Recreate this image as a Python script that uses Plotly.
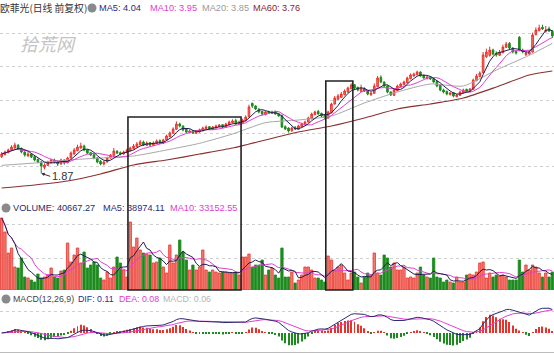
import plotly.graph_objects as go
import pandas as pd

# ---------------- data ----------------
open_ = [
2.12, 2.15, 2.18, 2.22, 2.25, 2.29, 2.24, 2.19, 2.13, 2.16,
2.12, 2.08, 2.04, 1.96, 1.99, 2.03, 2.07, 2.05, 2.01, 2.07,
2.03, 2.10, 2.16, 2.21, 2.25, 2.28, 2.22, 2.18, 2.15, 2.10,
2.05, 2.01, 2.04, 2.10, 2.14, 2.20, 2.18, 2.16, 2.18, 2.21,
2.24, 2.27, 2.30, 2.34, 2.29, 2.33, 2.29, 2.32, 2.36, 2.32,
2.37, 2.42, 2.47, 2.53, 2.61, 2.58, 2.53, 2.48, 2.51, 2.47,
2.49, 2.51, 2.54, 2.57, 2.53, 2.55, 2.57, 2.60, 2.56, 2.60,
2.63, 2.66, 2.61, 2.62, 2.66, 2.72, 2.92, 2.88, 2.83, 2.80,
2.75, 2.79, 2.77, 2.80, 2.76, 2.74, 2.57, 2.55, 2.51, 2.56,
2.53, 2.57, 2.60, 2.64, 2.69, 2.75, 2.80, 2.77, 2.74, 2.70,
2.78, 2.91, 2.98, 3.01, 3.05, 3.09, 3.14, 3.20, 3.16, 3.10,
3.14, 3.11, 3.05, 3.07, 3.17, 3.31, 3.24, 3.18, 3.09, 3.04,
3.11, 3.17, 3.20, 3.23, 3.29, 3.33, 3.35, 3.39, 3.34, 3.29,
3.32, 3.29, 3.25, 3.19, 3.12, 3.10, 3.05, 3.08, 3.02, 3.04,
3.08, 3.13, 3.10, 3.13, 3.26, 3.32, 3.38, 3.62, 3.64, 3.72,
3.67, 3.64, 3.68, 3.76, 3.82, 3.75, 3.70, 3.91, 3.72, 3.65,
3.66, 3.69, 3.95, 4.01, 4.06, 4.00, 4.04, 4.00]
high = [
2.19, 2.21, 2.24, 2.29, 2.33, 2.31, 2.26, 2.20, 2.19, 2.17,
2.13, 2.09, 2.05, 2.02, 2.06, 2.09, 2.09, 2.06, 2.09, 2.08,
2.12, 2.20, 2.25, 2.30, 2.33, 2.30, 2.23, 2.19, 2.16, 2.11,
2.07, 2.06, 2.12, 2.16, 2.25, 2.22, 2.20, 2.21, 2.24, 2.27,
2.31, 2.34, 2.37, 2.36, 2.35, 2.34, 2.35, 2.38, 2.38, 2.39,
2.45, 2.50, 2.56, 2.65, 2.63, 2.59, 2.55, 2.53, 2.52, 2.52,
2.54, 2.57, 2.59, 2.58, 2.58, 2.60, 2.61, 2.61, 2.63, 2.66,
2.68, 2.69, 2.66, 2.69, 2.74, 2.90, 2.93, 2.89, 2.85, 2.81,
2.81, 2.81, 2.81, 2.81, 2.77, 2.75, 2.59, 2.56, 2.57, 2.58,
2.60, 2.63, 2.66, 2.72, 2.78, 2.81, 2.82, 2.78, 2.75, 2.81,
2.93, 3.03, 3.06, 3.09, 3.13, 3.17, 3.22, 3.21, 3.17, 3.20,
3.16, 3.12, 3.09, 3.22, 3.33, 3.34, 3.25, 3.19, 3.10, 3.14,
3.20, 3.23, 3.26, 3.32, 3.37, 3.38, 3.41, 3.40, 3.35, 3.33,
3.33, 3.30, 3.26, 3.20, 3.14, 3.11, 3.09, 3.09, 3.06, 3.11,
3.14, 3.14, 3.15, 3.29, 3.36, 3.40, 3.69, 3.74, 3.77, 3.74,
3.70, 3.72, 3.80, 3.84, 3.84, 3.76, 3.72, 3.93, 3.74, 3.70,
3.72, 3.98, 4.06, 4.10, 4.10, 4.08, 4.07, 4.02]
low = [
2.10, 2.14, 2.17, 2.21, 2.24, 2.22, 2.17, 2.12, 2.12, 2.10,
2.05, 2.02, 1.87, 1.93, 1.98, 2.02, 2.02, 1.98, 2.00, 2.00,
2.02, 2.09, 2.15, 2.20, 2.24, 2.20, 2.16, 2.13, 2.08, 2.02,
1.99, 1.99, 2.03, 2.09, 2.13, 2.16, 2.14, 2.15, 2.17, 2.20,
2.23, 2.26, 2.29, 2.28, 2.28, 2.27, 2.28, 2.31, 2.31, 2.31,
2.36, 2.41, 2.46, 2.52, 2.56, 2.50, 2.47, 2.47, 2.46, 2.46,
2.48, 2.50, 2.53, 2.52, 2.52, 2.54, 2.56, 2.55, 2.55, 2.59,
2.62, 2.60, 2.60, 2.61, 2.65, 2.71, 2.85, 2.82, 2.77, 2.74,
2.74, 2.76, 2.76, 2.75, 2.72, 2.55, 2.52, 2.48, 2.49, 2.52,
2.52, 2.56, 2.59, 2.63, 2.68, 2.74, 2.75, 2.71, 2.68, 2.69,
2.77, 2.90, 2.97, 3.00, 3.04, 3.08, 3.13, 3.13, 3.10, 3.09,
3.09, 3.04, 3.03, 3.06, 3.16, 3.22, 3.16, 3.07, 3.03, 3.03,
3.10, 3.16, 3.19, 3.22, 3.28, 3.32, 3.34, 3.32, 3.29, 3.28,
3.27, 3.22, 3.16, 3.10, 3.07, 3.04, 3.04, 3.01, 3.01, 3.03,
3.07, 3.09, 3.09, 3.12, 3.25, 3.31, 3.37, 3.60, 3.62, 3.64,
3.62, 3.63, 3.67, 3.75, 3.73, 3.67, 3.65, 3.70, 3.67, 3.63,
3.65, 3.68, 3.94, 4.00, 4.02, 3.98, 3.99, 3.90]
close = [
2.16, 2.19, 2.22, 2.265, 2.295, 2.235, 2.19, 2.145, 2.16, 2.115,
2.07, 2.04, 1.98, 1.995, 2.04, 2.07, 2.04, 2.01, 2.07, 2.025,
2.10, 2.175, 2.22, 2.265, 2.28, 2.22, 2.175, 2.145, 2.10, 2.04,
2.01, 2.04, 2.10, 2.145, 2.205, 2.175, 2.16, 2.19, 2.22, 2.25,
2.28, 2.31, 2.34, 2.295, 2.325, 2.295, 2.325, 2.355, 2.325, 2.37,
2.43, 2.475, 2.535, 2.61, 2.58, 2.52, 2.49, 2.505, 2.475, 2.505,
2.52, 2.55, 2.565, 2.535, 2.565, 2.58, 2.595, 2.565, 2.61, 2.64,
2.655, 2.61, 2.64, 2.67, 2.715, 2.865, 2.88, 2.835, 2.79, 2.76,
2.79, 2.775, 2.79, 2.76, 2.73, 2.565, 2.535, 2.505, 2.55, 2.535,
2.58, 2.61, 2.64, 2.70, 2.76, 2.79, 2.76, 2.73, 2.70, 2.79,
2.91, 3.00, 3.03, 3.06, 3.105, 3.15, 3.195, 3.15, 3.12, 3.15,
3.105, 3.06, 3.075, 3.18, 3.30, 3.24, 3.18, 3.09, 3.045, 3.12,
3.18, 3.21, 3.24, 3.30, 3.345, 3.36, 3.39, 3.33, 3.30, 3.315,
3.285, 3.24, 3.18, 3.12, 3.09, 3.06, 3.075, 3.03, 3.045, 3.09,
3.12, 3.105, 3.135, 3.27, 3.33, 3.375, 3.645, 3.69, 3.72, 3.66,
3.645, 3.69, 3.765, 3.81, 3.75, 3.69, 3.675, 3.72, 3.69, 3.675,
3.69, 3.945, 4.02, 4.05, 4.035, 4.02, 4.005, 3.93]
volume = [
72000, 58000, 37000, 42000, 23000, 22000, 32000, 13000, 12000, 10000,
8000, 16000, 12000, 13000, 15000, 22000, 13000, 12000, 19000, 20000,
47000, 28000, 35000, 42000, 27000, 38000, 22000, 25000, 28000, 25000,
12000, 10000, 18000, 12000, 23000, 33000, 27000, 20000, 13000, 68000,
43000, 52000, 40000, 37000, 36000, 35000, 27000, 28000, 32000, 23000,
17000, 45000, 27000, 35000, 50000, 38000, 30000, 20000, 25000, 20000,
23000, 40000, 20000, 18000, 20000, 18000, 17000, 18000, 18000, 17000,
17000, 18000, 15000, 33000, 33000, 36000, 23000, 25000, 25000, 30000,
15000, 20000, 22000, 15000, 12000, 42000, 13000, 13000, 18000, 7000,
10000, 15000, 23000, 23000, 20000, 12000, 12000, 10000, 8000, 34000,
30000, 20000, 23000, 25000, 17000, 10000, 17000, 18000, 13000, 7000,
13000, 17000, 15000, 37000, 17000, 15000, 35000, 32000, 23000, 27000,
20000, 20000, 23000, 12000, 13000, 12000, 17000, 23000, 15000, 13000,
12000, 32000, 13000, 12000, 8000, 10000, 8000, 7000, 13000, 8000,
8000, 15000, 16000, 15000, 18000, 27000, 28000, 12000, 17000, 13000,
15000, 14000, 15000, 13000, 10000, 10000, 10000, 30000, 18000, 25000,
20000, 25000, 23000, 17000, 13000, 17000, 13000, 18000]
# MA20 / MA60 at every tenth session
ma_idx = [0, 10, 20, 30, 40, 50, 60, 70, 80, 90, 100, 110, 120, 130, 140, 150, 160, 167]
ma20 = [1.99, 2.025, 2.07, 2.10, 2.13, 2.22, 2.32, 2.46, 2.63, 2.67, 2.73, 2.925, 3.09, 3.21, 3.18, 3.42, 3.64, 3.82]
ma60 = [1.65, 1.695, 1.755, 1.86, 1.995, 2.07, 2.16, 2.25, 2.37, 2.49, 2.58, 2.70, 2.835, 2.91, 3.00, 3.165, 3.345, 3.405]

title_txt = "欧菲光(日线 前复权)"
hdr_price = [("MA5: 4.04", "#2b2b7a"), ("MA10: 3.95", "#e040d0"), ("MA20: 3.85", "#9a9a9a"), ("MA60: 3.76", "#8b2525")]
hdr_vol = [("VOLUME: 40667.27", "#2b2b6a"), ("MA5: 38974.11", "#2b2b7a"), ("MA10: 33152.55", "#e040d0")]
hdr_macd = [("MACD(12,26,9)", "#444444"), ("DIF: 0.11", "#2b2b9a"), ("DEA: 0.08", "#e040d0"), ("MACD: 0.06", "#b5b5b5")]

# ---------------- derived indicators ----------------
N = len(close)
idx = list(range(N))
cs = pd.Series(close)
ma5 = cs.rolling(5, min_periods=1).mean()
ma10 = cs.rolling(10, min_periods=1).mean()
vs = pd.Series(volume, dtype=float)
vma5 = vs.rolling(5, min_periods=1).mean()
vma10 = vs.rolling(10, min_periods=1).mean()
ema12 = cs.ewm(span=12, adjust=False).mean()
ema26 = cs.ewm(span=26, adjust=False).mean()
dif = ema12 - ema26
dea = dif.ewm(span=9, adjust=False).mean()
macd = 2 * (dif - dea)

RED = "#e8332c"
RED_FILL = "#f47a70"
GREEN = "#1d8a1d"
W, H = 554, 354
FONT = "Liberation Sans, Arial, Noto Sans CJK SC, sans-serif"


def px(x):
    return x / W


def py(y):
    return 1 - y / H


fig = go.Figure()
fig.add_trace(go.Candlestick(
    x=idx, open=open_, high=high, low=low, close=close,
    increasing=dict(line=dict(color=RED, width=1), fillcolor=RED_FILL),
    decreasing=dict(line=dict(color=GREEN, width=1), fillcolor=GREEN),
    whiskerwidth=0, hoverinfo="skip", showlegend=False, xaxis="x", yaxis="y"))
fig.add_trace(go.Scatter(x=ma_idx, y=ma60, mode="lines", line=dict(color="#8b2f2f", width=1.2, shape="spline", smoothing=0.6), yaxis="y"))
fig.add_trace(go.Scatter(x=ma_idx, y=ma20, mode="lines", line=dict(color="#a8a8a8", width=1, shape="spline", smoothing=0.6), yaxis="y"))
fig.add_trace(go.Scatter(x=idx, y=ma10, mode="lines", line=dict(color="#e040d0", width=1), yaxis="y"))
fig.add_trace(go.Scatter(x=idx, y=ma5, mode="lines", line=dict(color="#1f1f50", width=1), yaxis="y"))

up = [c >= o for o, c in zip(open_, close)]
fig.add_trace(go.Bar(x=idx, y=volume, width=0.72, yaxis="y2",
                     marker=dict(color=[RED_FILL if u else GREEN for u in up],
                                 line=dict(color=[RED if u else GREEN for u in up], width=0.8))))
fig.add_trace(go.Scatter(x=idx, y=vma10, mode="lines", line=dict(color="#e040d0", width=1), yaxis="y2"))
fig.add_trace(go.Scatter(x=idx, y=vma5, mode="lines", line=dict(color="#1f1f50", width=1), yaxis="y2"))

fig.add_trace(go.Bar(x=idx, y=macd, width=0.3, yaxis="y3",
                     marker=dict(color=[RED if m >= 0 else GREEN for m in macd], line=dict(width=0))))
fig.add_trace(go.Scatter(x=idx, y=dea, mode="lines", line=dict(color="#e040d0", width=1), yaxis="y3"))
fig.add_trace(go.Scatter(x=idx, y=dif, mode="lines", line=dict(color="#2a2a70", width=1), yaxis="y3"))

hi = float(max(dif.max(), dea.max(), macd.max())) * 1.12
lo = -0.68 * hi

grid = dict(showgrid=True, gridcolor="#cfcfcf", griddash="dot", gridwidth=1,
            showticklabels=False, zeroline=False, showline=False, ticks="")
fig.update_layout(
    width=W, height=H, margin=dict(l=0, r=0, t=0, b=0),
    paper_bgcolor="white", plot_bgcolor="white", showlegend=False, barmode="overlay",
    xaxis=dict(range=[-0.5, N - 0.5], visible=False, rangeslider=dict(visible=False)),
    yaxis=dict(domain=[py(200), py(18)], range=[1.47, 4.20], tick0=0.4675, dtick=0.5, **grid),
    yaxis2=dict(domain=[py(290), py(215)], range=[0, 75000], anchor="x", tickvals=[32000, 66000], **grid),
    yaxis3=dict(domain=[py(352), py(305)], range=[lo, hi], anchor="x", tickvals=[0.75 * hi], **grid),
)

shapes = []
# highlight boxes
shapes.append(dict(type="rect", xref="x", yref="paper", x0=38.3, x1=72.6, y0=py(290), y1=py(117),
                   line=dict(color="#222222", width=1.6), layer="above"))
shapes.append(dict(type="rect", xref="x", yref="paper", x0=98.3, x1=106.5, y0=py(290), y1=py(81),
                   line=dict(color="#222222", width=1.6), layer="above"))
# header icons
for cx, cy in [(92, 8), (6, 208), (6, 299)]:
    shapes.append(dict(type="circle", xref="paper", yref="paper", x0=px(cx - 4.5), x1=px(cx + 4.5),
                       y0=py(cy + 4.5), y1=py(cy - 4.5), fillcolor="#8a8a8a", line=dict(width=0)))
shapes.append(dict(type="line", xref="paper", yref="paper", x0=0, x1=1, y0=py(352.5), y1=py(352.5),
                   line=dict(color="#bdbdbd", width=1)))
fig.update_layout(shapes=shapes)

ann = []
ann.append(dict(text=title_txt, x=px(-2), y=py(8), xref="paper", yref="paper", xanchor="left", yanchor="middle",
                showarrow=False, font=dict(family="Noto Sans CJK SC", size=9.8, color="#333333")))
for (t, c), x0 in zip(hdr_price, [97, 148, 200, 251]):
    ann.append(dict(text=t, x=px(x0), y=py(8), xref="paper", yref="paper", xanchor="left", yanchor="middle",
                    showarrow=False, font=dict(family=FONT, size=9.2, color=c)))
for (t, c), x0 in zip(hdr_vol, [11, 101, 168]):
    ann.append(dict(text=t, x=px(x0), y=py(208), xref="paper", yref="paper", xanchor="left", yanchor="middle",
                    showarrow=False, font=dict(family=FONT, size=9.2, color=c)))
for (t, c), x0 in zip(hdr_macd, [11, 76, 117, 161]):
    ann.append(dict(text=t, x=px(x0), y=py(299), xref="paper", yref="paper", xanchor="left", yanchor="middle",
                    showarrow=False, font=dict(family=FONT, size=8.8, color=c)))
# watermark
ann.append(dict(text="拾荒网", x=px(18), y=py(43), xref="paper", yref="paper", xanchor="left", yanchor="middle",
                showarrow=False, font=dict(family="Noto Sans CJK SC", size=18, color="#c4c4c4", style="italic")))
# lowest price marker
imin = min(range(N), key=lambda i: low[i])
ann.append(dict(text=f"{low[imin]:.2f}", x=imin, y=low[imin], xref="x", yref="y", xanchor="left", yanchor="middle",
                showarrow=True, ax=9, ay=3, arrowhead=2, arrowsize=0.7, arrowwidth=1, arrowcolor="#333333",
                font=dict(family=FONT, size=11, color="#333333")))
fig.update_layout(annotations=ann)

fig.write_html("out.html")
